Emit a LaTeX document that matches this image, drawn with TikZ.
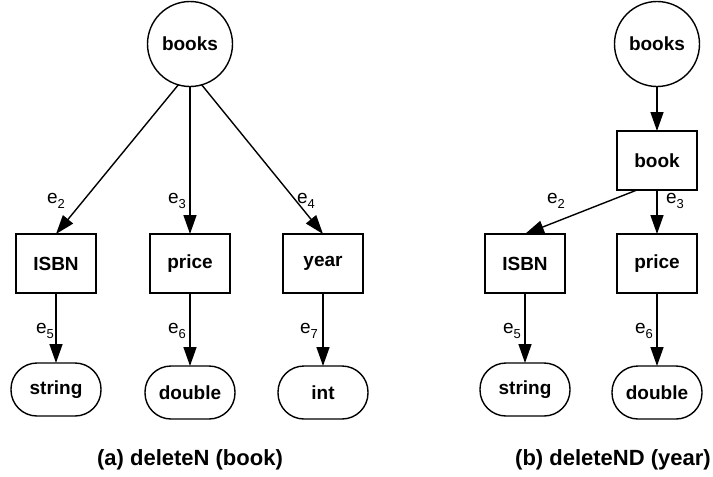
\documentclass[tikz,border=0pt]{standalone}
\usepackage{fontspec}
\setmainfont{Liberation Sans}
\usetikzlibrary{arrows.meta,calc}
\newcommand\elab[1]{e\raisebox{-0.45ex}{\fontsize{13}{13}\selectfont #1}}
\begin{document}
\begin{tikzpicture}[x=1pt,y=-1pt,
  every node/.style={inner sep=0pt,outer sep=0pt},
  circ/.style={draw,circle,line width=1.4pt,minimum size=85pt,font=\fontsize{19}{19}\selectfont\bfseries},
  box/.style={draw,rectangle,line width=1.4pt,minimum width=80pt,minimum height=59pt,font=\fontsize{19}{19}\selectfont\bfseries},
  oval/.style={draw,rectangle,rounded corners=26pt,line width=1.4pt,minimum width=90pt,minimum height=53pt,font=\fontsize{19}{19}\selectfont\bfseries},
  arr/.style={line width=1.4pt,-{Triangle[length=19pt,width=13pt]}},
  elabel/.style={font=\fontsize{19}{19}\selectfont},
  caption/.style={font=\fontsize{22}{22}\selectfont\bfseries}]
\useasboundingbox (0,0) rectangle (713,477);
% (a)
\node[circ] (booksA) at (190,44) {books};
\node[box] (isbnA) at (56,263.5) {ISBN};
\node[box] (priceA) at (190,263.5) {price};
\node[box] (yearA) at (323,263.5) {year};
\node[oval] (stringA) at (56,389.5) {string};
\node[oval] (doubleA) at (190,392.5) {double};
\node[oval] (intA) at (323,392.5) {int};
\draw[arr] (booksA.254) -- (isbnA.north);
\draw[arr] (booksA.south) -- (priceA.north);
\draw[arr] (booksA.286) -- (yearA.north);
\draw[arr] (isbnA.south) -- (stringA.north);
\draw[arr] (priceA.south) -- (doubleA.north);
\draw[arr] (yearA.south) -- (intA.north);
\node[elabel] (e2A) at (56,201) {\elab{2}};
\node[elabel] (e3A) at (177,201) {\elab{3}};
\node[elabel] (e4A) at (306,201) {\elab{4}};
\node[elabel] (e5A) at (45,331) {\elab{5}};
\node[elabel] (e6A) at (177,331) {\elab{6}};
\node[elabel] (e7A) at (309,331) {\elab{7}};
\node[caption] (capA) at (190,460) {(a) deleteN (book)};
% (b)
\node[circ] (booksB) at (657,44) {books};
\node[box] (bookB) at (657,160.5) {book};
\node[box] (isbnB) at (525,263.5) {ISBN};
\node[box] (priceB) at (657,263.5) {price};
\node[oval] (stringB) at (525,389.5) {string};
\node[oval] (doubleB) at (657,392.5) {double};
\draw[arr] (booksB.south) -- (bookB.north);
\draw[arr] ($(bookB.south)!0.5!(bookB.south west)$) -- (isbnB.north);
\draw[arr] (bookB.south) -- (priceB.north);
\draw[arr] (isbnB.south) -- (stringB.north);
\draw[arr] (priceB.south) -- (doubleB.north);
\node[elabel] (e2B) at (556,201) {\elab{2}};
\node[elabel] (e3B) at (675,201) {\elab{3}};
\node[elabel] (e5B) at (512,331) {\elab{5}};
\node[elabel] (e6B) at (644,331) {\elab{6}};
\node[caption] (capB) at (613,460) {(b) deleteND (year)};
\end{tikzpicture}
\end{document}
